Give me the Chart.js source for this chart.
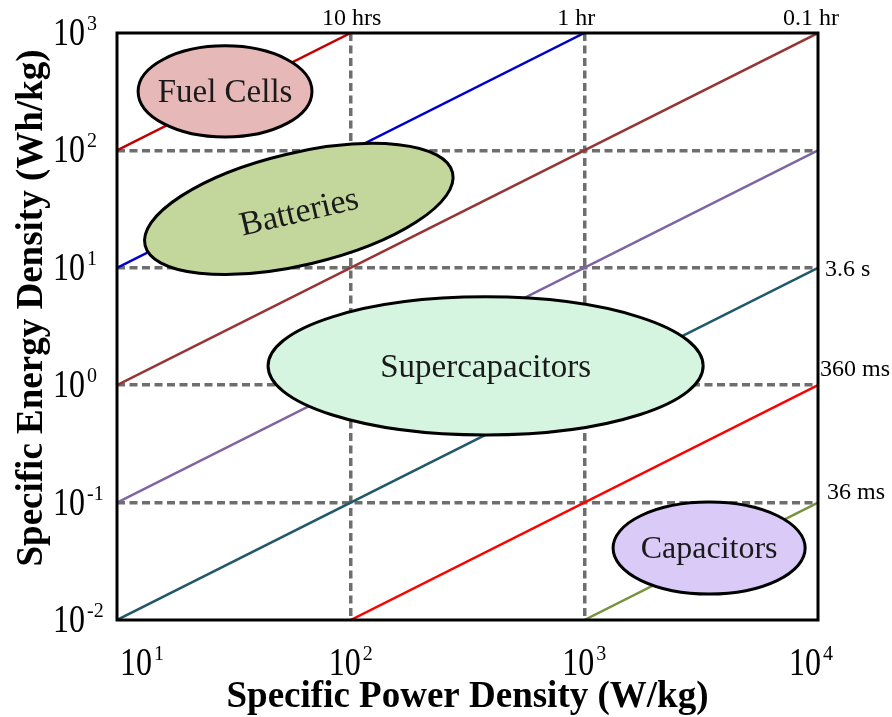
<!DOCTYPE html>
<html><head><meta charset="utf-8">
<script src="https://cdn.jsdelivr.net/npm/chart.js@4.4.1/dist/chart.umd.min.js"></script>
<style>html,body{margin:0;padding:0;background:#fff;overflow:hidden}</style>
</head><body>
<canvas id="c" width="892" height="717"></canvas>
<script>
// ---------- data ----------
const xTicks = [10, 100, 1000, 10000];
const xTickExp = ['1', '2', '3', '4'];
const yTicks = [0.01, 0.1, 1, 10, 100, 1000];
const yTickExp = ['-2', '-1', '0', '1', '2', '3'];

const lineLabels      = ['10 hrs', '1 hr', '0.1 hr', '36 s', '3.6 s', '360 ms', '36 ms'];
const lineStartPower  = [10, 10, 10, 10, 10, 100, 1000];
const lineStartEnergy = [100, 10, 1, 0.1, 0.01, 0.01, 0.01];
const lineEndPower    = [100, 1000, 10000, 10000, 10000, 10000, 10000];
const lineEndEnergy   = [1000, 1000, 1000, 100, 10, 1, 0.1];

const regionNames  = ['Fuel Cells', 'Batteries', 'Supercapacitors', 'Capacitors'];
const regionPower  = [29, 60, 378, 3420];
const regionEnergy = [318, 31.7, 1.46, 0.041];

const xTitle = 'Specific Power Density (W/kg)';
const yTitle = 'Specific Energy Density (Wh/kg)';

// ---------- styles ----------
const SERIF = '"Liberation Serif", "Times New Roman", serif';
const lineColors = ['#c00000', '#0000cc', '#943634', '#8064a2', '#215968', '#ff0000', '#77933c'];
// label placement: 'top' = above plot centred, 'right' = right of plot, null = none
const labelPlace = ['top', 'top', 'top', null, 'right', 'right', 'right'];
const labelDx = [1, -8, -7, 0, 7, 2, 9];
const labelDy = [-8, -8, -8, 0, 8, -9, -4];

const regionRxDec = [0.372, 0.676, 0.931, 0.411];   // semi-axis in x-decades
const regionRyDec = [0.388, 0.477, 0.588, 0.392];   // semi-axis in y-decades
const regionAngle = [0, -13.3, 0, 0];
const regionFill  = ['#e6b9b8', '#c3d69b', '#d5f5e1', '#d9caf7'];
const regionFont  = [33, 34, 33, 32];
const regionTextDy = [0, 2, 0, -1];

const SX = 0.8; // horizontal squeeze of tick labels

function drawPow(ctx, exp, x, baseline, mode, area) {
  ctx.save();
  const big = '40px ' + SERIF, small = '20px ' + SERIF;
  ctx.font = big; const w1 = ctx.measureText('10').width * SX;
  ctx.font = small; const w2 = ctx.measureText(exp).width;
  const total = w1 + 2 + w2;
  let left;
  if (mode === 'left') left = x;
  else {
    left = x - total / 2;
    if (left < area.left + 3) left = area.left + 3;
    if (left + total > area.right + 15) left = area.right + 15 - total;
  }
  ctx.fillStyle = '#000';
  ctx.textAlign = 'left'; ctx.textBaseline = 'alphabetic';
  ctx.save();
  ctx.translate(left, baseline);
  ctx.scale(SX, 1);
  ctx.font = big; ctx.fillText('10', 0, 0);
  ctx.restore();
  ctx.font = small; ctx.fillText(exp, left + w1 + 2, baseline - 15);
  ctx.restore();
}

const overlay = {
  id: 'overlay',
  afterDatasetsDraw(chart) {
    const {ctx, scales: {x, y}} = chart;
    const decX = x.getPixelForValue(100) - x.getPixelForValue(10);
    const decY = y.getPixelForValue(1) - y.getPixelForValue(10);
    regionNames.forEach((name, i) => {
      const cx = x.getPixelForValue(regionPower[i]);
      const cy = y.getPixelForValue(regionEnergy[i]);
      const rx = regionRxDec[i] * decX, ry = regionRyDec[i] * decY;
      const ang = regionAngle[i] * Math.PI / 180;
      ctx.save();
      ctx.beginPath();
      ctx.ellipse(cx, cy, rx, ry, ang, 0, Math.PI * 2);
      ctx.fillStyle = regionFill[i];
      ctx.fill();
      ctx.lineWidth = 3;
      ctx.strokeStyle = '#000';
      ctx.stroke();
      ctx.translate(cx, cy + regionTextDy[i]);
      ctx.rotate(ang);
      ctx.font = regionFont[i] + 'px ' + SERIF;
      ctx.fillStyle = '#1a1a1a';
      ctx.textAlign = 'center';
      ctx.textBaseline = 'alphabetic';
      ctx.fillText(name, 0, regionFont[i] * 0.33);
      ctx.restore();
    });
  },
  afterDraw(chart) {
    const {ctx, chartArea: a, scales: {x, y}} = chart;
    // frame
    ctx.save();
    ctx.lineWidth = 3;
    ctx.strokeStyle = '#000';
    ctx.strokeRect(a.left, a.top, a.right - a.left, a.bottom - a.top);
    ctx.restore();
    // tick labels
    xTicks.forEach((v, i) => drawPow(ctx, xTickExp[i], x.getPixelForValue(v), a.bottom + 55, 'center', a));
    yTicks.forEach((v, i) => drawPow(ctx, yTickExp[i], 53, y.getPixelForValue(v) + 12, 'left', a));
    // line labels
    ctx.save();
    ctx.font = '24px ' + SERIF;
    ctx.fillStyle = '#000';
    ctx.textBaseline = 'alphabetic';
    lineLabels.forEach((lab, i) => {
      const px = x.getPixelForValue(lineEndPower[i]);
      const py = y.getPixelForValue(lineEndEnergy[i]);
      if (labelPlace[i] === 'top') {
        ctx.textAlign = 'center';
        ctx.fillText(lab, px + labelDx[i], a.top + labelDy[i]);
      } else if (labelPlace[i] === 'right') {
        ctx.textAlign = 'left';
        ctx.fillText(lab, px + labelDx[i], py + labelDy[i]);
      }
    });
    ctx.restore();
    // axis titles
    ctx.save();
    ctx.font = 'bold 37px ' + SERIF;
    ctx.fillStyle = '#000';
    ctx.textAlign = 'center';
    ctx.textBaseline = 'alphabetic';
    ctx.fillText(xTitle, (a.left + a.right) / 2, 707);
    ctx.translate(42, 308);
    ctx.rotate(-Math.PI / 2);
    ctx.fillText(yTitle, 0, 0);
    ctx.restore();
  }
};

const datasets = lineLabels.map((lab, i) => ({
  label: lab,
  data: [{x: lineStartPower[i], y: lineStartEnergy[i]}, {x: lineEndPower[i], y: lineEndEnergy[i]}],
  borderColor: lineColors[i],
  borderWidth: 2.5,
  pointRadius: 0,
  fill: false,
  tension: 0
}));

const gridColor = (lo, hi) => (c) => (c.tick && c.tick.value > lo && c.tick.value < hi) ? '#6e6e6e' : 'rgba(0,0,0,0)';

new Chart(document.getElementById('c'), {
  type: 'line',
  data: {datasets},
  options: {
    responsive: false,
    animation: false,
    devicePixelRatio: 1,
    layout: {padding: {left: 117, top: 33, right: 74, bottom: 97}},
    plugins: {legend: {display: false}, tooltip: {enabled: false}},
    scales: {
      x: {
        type: 'logarithmic', min: 10, max: 10000,
        afterBuildTicks: (s) => { s.ticks = xTicks.map(v => ({value: v})); },
        afterFit: (s) => { s.height = 0; },
        ticks: {display: false},
        title: {display: false},
        grid: {drawTicks: false, lineWidth: 3.5, color: gridColor(10, 10000), borderDash: [8, 4.5]},
        border: {display: false, dash: [8, 4.5]}
      },
      y: {
        type: 'logarithmic', min: 0.01, max: 1000,
        afterBuildTicks: (s) => { s.ticks = yTicks.map(v => ({value: v})); },
        afterFit: (s) => { s.width = 0; },
        ticks: {display: false},
        title: {display: false},
        grid: {drawTicks: false, lineWidth: 3.5, color: gridColor(0.01, 1000), borderDash: [8, 4.5]},
        border: {display: false, dash: [8, 4.5]}
      }
    }
  },
  plugins: [overlay]
});
</script>
</body></html>
